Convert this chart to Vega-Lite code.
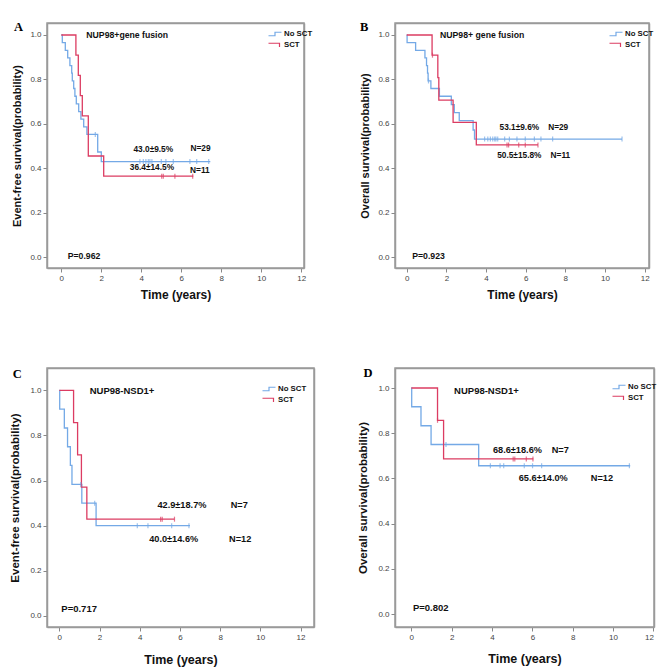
{
  "$schema": "https://vega.github.io/schema/vega-lite/v6.json",
  "background": "white",
  "padding": {"left": 9, "top": 20, "right": 5, "bottom": 5},
  "config": {
    "view": {"stroke": "#9a9a9a", "strokeWidth": 1.5},
    "axis": {"grid": false, "domain": true, "domainColor": "#9a9a9a", "domainWidth": 1.5, "tickColor": "#888", "tickSize": 4, "labelFont": "Liberation Sans", "labelFontSize": 8, "labelColor": "#444", "labelPadding": 2, "titleFont": "Liberation Sans", "titleFontWeight": "bold", "titleColor": "#111"},
    "legend": {"title": null, "labelFont": "Liberation Sans", "labelFontSize": 7.8, "labelFontWeight": "bold", "labelColor": "#111", "symbolSize": 100, "symbolStrokeWidth": 1.2, "rowPadding": 0, "labelOffset": 3, "padding": 0}
  },
  "datasets": {
    "steps": [
      {"p": "A", "g": "No SCT", "t": 0, "s": 1},
      {"p": "A", "g": "No SCT", "t": 0.05, "s": 0.966},
      {"p": "A", "g": "No SCT", "t": 0.2, "s": 0.931},
      {"p": "A", "g": "No SCT", "t": 0.32, "s": 0.897},
      {"p": "A", "g": "No SCT", "t": 0.43, "s": 0.862},
      {"p": "A", "g": "No SCT", "t": 0.52, "s": 0.828},
      {"p": "A", "g": "No SCT", "t": 0.55, "s": 0.793},
      {"p": "A", "g": "No SCT", "t": 0.62, "s": 0.759},
      {"p": "A", "g": "No SCT", "t": 0.68, "s": 0.724},
      {"p": "A", "g": "No SCT", "t": 0.75, "s": 0.69},
      {"p": "A", "g": "No SCT", "t": 0.87, "s": 0.655},
      {"p": "A", "g": "No SCT", "t": 0.98, "s": 0.621},
      {"p": "A", "g": "No SCT", "t": 1.12, "s": 0.586},
      {"p": "A", "g": "No SCT", "t": 1.28, "s": 0.552},
      {"p": "A", "g": "No SCT", "t": 1.82, "s": 0.473},
      {"p": "A", "g": "No SCT", "t": 2.0, "s": 0.43},
      {"p": "A", "g": "No SCT", "t": 7.45, "s": 0.43},
      {"p": "A", "g": "SCT", "t": 0, "s": 1},
      {"p": "A", "g": "SCT", "t": 0.73, "s": 0.909},
      {"p": "A", "g": "SCT", "t": 0.85, "s": 0.818},
      {"p": "A", "g": "SCT", "t": 0.95, "s": 0.727},
      {"p": "A", "g": "SCT", "t": 1.05, "s": 0.636},
      {"p": "A", "g": "SCT", "t": 1.35, "s": 0.455},
      {"p": "A", "g": "SCT", "t": 2.12, "s": 0.364},
      {"p": "A", "g": "SCT", "t": 6.6, "s": 0.364},
      {"p": "B", "g": "No SCT", "t": 0, "s": 1},
      {"p": "B", "g": "No SCT", "t": 0.02, "s": 0.966},
      {"p": "B", "g": "No SCT", "t": 0.45, "s": 0.931},
      {"p": "B", "g": "No SCT", "t": 0.92, "s": 0.897},
      {"p": "B", "g": "No SCT", "t": 1.0, "s": 0.862},
      {"p": "B", "g": "No SCT", "t": 1.05, "s": 0.828},
      {"p": "B", "g": "No SCT", "t": 1.08, "s": 0.793},
      {"p": "B", "g": "No SCT", "t": 1.22, "s": 0.759},
      {"p": "B", "g": "No SCT", "t": 1.65, "s": 0.724},
      {"p": "B", "g": "No SCT", "t": 2.25, "s": 0.686},
      {"p": "B", "g": "No SCT", "t": 2.4, "s": 0.65},
      {"p": "B", "g": "No SCT", "t": 2.65, "s": 0.614},
      {"p": "B", "g": "No SCT", "t": 3.35, "s": 0.572},
      {"p": "B", "g": "No SCT", "t": 3.42, "s": 0.531},
      {"p": "B", "g": "No SCT", "t": 10.86, "s": 0.531},
      {"p": "B", "g": "SCT", "t": 0, "s": 1},
      {"p": "B", "g": "SCT", "t": 1.28, "s": 0.909},
      {"p": "B", "g": "SCT", "t": 1.57, "s": 0.808},
      {"p": "B", "g": "SCT", "t": 1.62, "s": 0.707},
      {"p": "B", "g": "SCT", "t": 2.34, "s": 0.606},
      {"p": "B", "g": "SCT", "t": 3.51, "s": 0.505},
      {"p": "B", "g": "SCT", "t": 6.62, "s": 0.505},
      {"p": "C", "g": "No SCT", "t": 0, "s": 1},
      {"p": "C", "g": "No SCT", "t": 0.02, "s": 0.917},
      {"p": "C", "g": "No SCT", "t": 0.25, "s": 0.833},
      {"p": "C", "g": "No SCT", "t": 0.41, "s": 0.75},
      {"p": "C", "g": "No SCT", "t": 0.55, "s": 0.667},
      {"p": "C", "g": "No SCT", "t": 0.63, "s": 0.583},
      {"p": "C", "g": "No SCT", "t": 1.12, "s": 0.5},
      {"p": "C", "g": "No SCT", "t": 1.83, "s": 0.4},
      {"p": "C", "g": "No SCT", "t": 6.5, "s": 0.4},
      {"p": "C", "g": "SCT", "t": 0, "s": 1},
      {"p": "C", "g": "SCT", "t": 0.71, "s": 0.857},
      {"p": "C", "g": "SCT", "t": 0.91, "s": 0.714},
      {"p": "C", "g": "SCT", "t": 1.1, "s": 0.571},
      {"p": "C", "g": "SCT", "t": 1.37, "s": 0.429},
      {"p": "C", "g": "SCT", "t": 5.73, "s": 0.429},
      {"p": "D", "g": "No SCT", "t": 0, "s": 1},
      {"p": "D", "g": "No SCT", "t": 0.02, "s": 0.917},
      {"p": "D", "g": "No SCT", "t": 0.48, "s": 0.833},
      {"p": "D", "g": "No SCT", "t": 0.98, "s": 0.75},
      {"p": "D", "g": "No SCT", "t": 3.34, "s": 0.656},
      {"p": "D", "g": "No SCT", "t": 10.85, "s": 0.656},
      {"p": "D", "g": "SCT", "t": 0, "s": 1},
      {"p": "D", "g": "SCT", "t": 1.3, "s": 0.857},
      {"p": "D", "g": "SCT", "t": 1.6, "s": 0.686},
      {"p": "D", "g": "SCT", "t": 6.05, "s": 0.686}
    ],
    "cens": [
      {"p": "A", "g": "No SCT", "t": 1.7, "s": 0.552},
      {"p": "A", "g": "No SCT", "t": 3.93, "s": 0.43},
      {"p": "A", "g": "No SCT", "t": 4.1, "s": 0.43},
      {"p": "A", "g": "No SCT", "t": 4.23, "s": 0.43},
      {"p": "A", "g": "No SCT", "t": 4.35, "s": 0.43},
      {"p": "A", "g": "No SCT", "t": 4.43, "s": 0.43},
      {"p": "A", "g": "No SCT", "t": 4.53, "s": 0.43},
      {"p": "A", "g": "No SCT", "t": 5.0, "s": 0.43},
      {"p": "A", "g": "No SCT", "t": 5.23, "s": 0.43},
      {"p": "A", "g": "No SCT", "t": 5.6, "s": 0.43},
      {"p": "A", "g": "No SCT", "t": 6.43, "s": 0.43},
      {"p": "A", "g": "No SCT", "t": 6.77, "s": 0.43},
      {"p": "A", "g": "No SCT", "t": 7.37, "s": 0.43},
      {"p": "A", "g": "SCT", "t": 5.02, "s": 0.364},
      {"p": "A", "g": "SCT", "t": 5.1, "s": 0.364},
      {"p": "A", "g": "SCT", "t": 5.68, "s": 0.364},
      {"p": "A", "g": "SCT", "t": 6.57, "s": 0.364},
      {"p": "B", "g": "No SCT", "t": 1.1, "s": 0.793},
      {"p": "B", "g": "No SCT", "t": 3.93, "s": 0.531},
      {"p": "B", "g": "No SCT", "t": 4.09, "s": 0.531},
      {"p": "B", "g": "No SCT", "t": 4.22, "s": 0.531},
      {"p": "B", "g": "No SCT", "t": 4.34, "s": 0.531},
      {"p": "B", "g": "No SCT", "t": 4.44, "s": 0.531},
      {"p": "B", "g": "No SCT", "t": 4.5, "s": 0.531},
      {"p": "B", "g": "No SCT", "t": 4.59, "s": 0.531},
      {"p": "B", "g": "No SCT", "t": 4.94, "s": 0.531},
      {"p": "B", "g": "No SCT", "t": 5.18, "s": 0.531},
      {"p": "B", "g": "No SCT", "t": 5.56, "s": 0.531},
      {"p": "B", "g": "No SCT", "t": 5.98, "s": 0.531},
      {"p": "B", "g": "No SCT", "t": 6.44, "s": 0.531},
      {"p": "B", "g": "No SCT", "t": 6.77, "s": 0.531},
      {"p": "B", "g": "No SCT", "t": 7.36, "s": 0.531},
      {"p": "B", "g": "No SCT", "t": 10.86, "s": 0.531},
      {"p": "B", "g": "SCT", "t": 1.3, "s": 0.909},
      {"p": "B", "g": "SCT", "t": 5.06, "s": 0.505},
      {"p": "B", "g": "SCT", "t": 5.14, "s": 0.505},
      {"p": "B", "g": "SCT", "t": 5.65, "s": 0.505},
      {"p": "B", "g": "SCT", "t": 5.98, "s": 0.505},
      {"p": "B", "g": "SCT", "t": 6.62, "s": 0.505},
      {"p": "C", "g": "No SCT", "t": 1.07, "s": 0.583},
      {"p": "C", "g": "No SCT", "t": 1.76, "s": 0.5},
      {"p": "C", "g": "No SCT", "t": 3.88, "s": 0.4},
      {"p": "C", "g": "No SCT", "t": 4.41, "s": 0.4},
      {"p": "C", "g": "No SCT", "t": 5.59, "s": 0.4},
      {"p": "C", "g": "No SCT", "t": 6.45, "s": 0.4},
      {"p": "C", "g": "SCT", "t": 5.04, "s": 0.429},
      {"p": "C", "g": "SCT", "t": 5.12, "s": 0.429},
      {"p": "C", "g": "SCT", "t": 5.73, "s": 0.429},
      {"p": "D", "g": "No SCT", "t": 1.72, "s": 0.75},
      {"p": "D", "g": "No SCT", "t": 3.92, "s": 0.656},
      {"p": "D", "g": "No SCT", "t": 4.4, "s": 0.656},
      {"p": "D", "g": "No SCT", "t": 4.58, "s": 0.656},
      {"p": "D", "g": "No SCT", "t": 5.6, "s": 0.656},
      {"p": "D", "g": "No SCT", "t": 6.01, "s": 0.656},
      {"p": "D", "g": "No SCT", "t": 6.46, "s": 0.656},
      {"p": "D", "g": "No SCT", "t": 10.81, "s": 0.656},
      {"p": "D", "g": "SCT", "t": 1.3, "s": 0.857},
      {"p": "D", "g": "SCT", "t": 5.05, "s": 0.686},
      {"p": "D", "g": "SCT", "t": 5.13, "s": 0.686},
      {"p": "D", "g": "SCT", "t": 5.7, "s": 0.686},
      {"p": "D", "g": "SCT", "t": 6.03, "s": 0.686}
    ],
    "labs": [
      {"p": "A", "k": "L", "label": "NUP98+gene fusion", "t": 1.25, "s": 1.0},
      {"p": "A", "k": "C", "label": "43.0±9.5%", "t": 4.6, "s": 0.481},
      {"p": "A", "k": "C", "label": "N=29", "t": 6.96, "s": 0.485},
      {"p": "A", "k": "C", "label": "36.4±14.5%", "t": 4.53, "s": 0.4},
      {"p": "A", "k": "C", "label": "N=11", "t": 6.93, "s": 0.389},
      {"p": "A", "k": "L", "label": "P=0.962", "t": 0.32, "s": 0.005},
      {"p": "A", "k": "K", "label": "A", "t": -2.14, "s": 1.037},
      {"p": "B", "k": "L", "label": "NUP98+ gene fusion", "t": 1.68, "s": 1.0},
      {"p": "B", "k": "C", "label": "53.1±9.6%", "t": 5.68, "s": 0.582},
      {"p": "B", "k": "C", "label": "N=29", "t": 7.64, "s": 0.582},
      {"p": "B", "k": "C", "label": "50.5±15.8%", "t": 5.68, "s": 0.456},
      {"p": "B", "k": "C", "label": "N=11", "t": 7.75, "s": 0.456},
      {"p": "B", "k": "L", "label": "P=0.923", "t": 0.28, "s": 0.005},
      {"p": "B", "k": "K", "label": "B", "t": -2.15, "s": 1.037},
      {"p": "C", "k": "L", "label": "NUP98-NSD1+", "t": 1.51, "s": 0.998},
      {"p": "C", "k": "C", "label": "42.9±18.7%", "t": 6.1, "s": 0.492},
      {"p": "C", "k": "C", "label": "N=7", "t": 8.95, "s": 0.492},
      {"p": "C", "k": "C", "label": "40.0±14.6%", "t": 5.69, "s": 0.34},
      {"p": "C", "k": "C", "label": "N=12", "t": 9.0, "s": 0.34},
      {"p": "C", "k": "L", "label": "P=0.717", "t": 0.1, "s": 0.03},
      {"p": "C", "k": "K", "label": "C", "t": -2.09, "s": 1.071},
      {"p": "D", "k": "L", "label": "NUP98-NSD1+", "t": 2.12, "s": 0.988},
      {"p": "D", "k": "C", "label": "68.6±18.6%", "t": 5.26, "s": 0.726},
      {"p": "D", "k": "C", "label": "N=7", "t": 7.38, "s": 0.726},
      {"p": "D", "k": "C", "label": "65.6±14.0%", "t": 6.54, "s": 0.6},
      {"p": "D", "k": "C", "label": "N=12", "t": 9.45, "s": 0.6},
      {"p": "D", "k": "L", "label": "P=0.802", "t": 0.08, "s": 0.025},
      {"p": "D", "k": "K", "label": "D", "t": -2.14, "s": 1.065}
    ]
  },
  "columns": 2,
  "bounds": "flush",
  "align": "each",
  "spacing": {"row": 100, "column": 81},
  "resolve": {"scale": {"color": "independent"}, "legend": {"color": "independent"}},
  "concat": [
    {
      "width": 257, "height": 245,
      "resolve": {"axis": {"x": "independent", "y": "independent"}},
      "layer": [
        {
          "data": {"name": "steps"}, "transform": [{"filter": "datum.p === 'A'"}],
          "mark": {"type": "line", "interpolate": "step-after", "strokeWidth": 1.3},
          "encoding": {
            "x": {"field": "t", "type": "quantitative", "scale": {"domain": [-0.715, 12.135], "nice": false, "zero": false}, "axis": {"values": [0, 2, 4, 6, 8, 10, 12], "title": "Time (years)", "titleFontSize": 12, "titlePadding": 7}},
            "y": {"field": "s", "type": "quantitative", "scale": {"domain": [-0.0495, 1.054], "nice": false, "zero": false}, "axis": {"values": [0, 0.2, 0.4, 0.6, 0.8, 1], "format": ".1f", "title": "Event-free survival(probability)", "titleFontSize": 11, "titlePadding": 7}},
            "color": {"field": "g", "type": "nominal", "scale": {"domain": ["No SCT", "SCT"], "range": ["#74a9e6", "#dc3c62"]}, "legend": {"orient": "none", "legendX": 222, "legendY": 5, "symbolType": "M-1.3,0.35H0V-0.35H1.3", "encode": {"symbols": {"update": {"shape": {"signal": "datum.value === 'SCT' ? 'M-1.3,-0.35H0.9V0.4' : 'M-1.3,0.35H0V-0.35H1.3'"}}}}}}
          }
        },
        {
          "data": {"name": "cens"}, "transform": [{"filter": "datum.p === 'A'"}],
          "mark": {"type": "point", "shape": "M0,-1L0,1", "filled": false, "size": 25, "strokeWidth": 1.2},
          "encoding": {
            "x": {"field": "t", "type": "quantitative", "axis": {"orient": "top", "labels": false, "ticks": false, "title": null}},
            "y": {"field": "s", "type": "quantitative", "axis": {"orient": "right", "labels": false, "ticks": false, "title": null}},
            "color": {"field": "g", "type": "nominal"}}
        },
        {
          "data": {"name": "labs"}, "transform": [{"filter": "datum.p === 'A' && datum.k === 'L'"}],
          "mark": {"type": "text", "align": "left", "baseline": "middle", "font": "Liberation Sans", "fontWeight": "bold", "fontSize": 8.7, "color": "#111"},
          "encoding": {"x": {"field": "t", "type": "quantitative", "axis": null}, "y": {"field": "s", "type": "quantitative", "axis": null}, "text": {"field": "label"}}
        },
        {
          "data": {"name": "labs"}, "transform": [{"filter": "datum.p === 'A' && datum.k === 'C'"}],
          "mark": {"type": "text", "align": "center", "baseline": "middle", "font": "Liberation Sans", "fontWeight": "bold", "fontSize": 8.3, "color": "#111"},
          "encoding": {"x": {"field": "t", "type": "quantitative", "axis": null}, "y": {"field": "s", "type": "quantitative", "axis": null}, "text": {"field": "label"}}
        },
        {
          "data": {"name": "labs"}, "transform": [{"filter": "datum.p === 'A' && datum.k === 'K'"}],
          "mark": {"type": "text", "align": "center", "baseline": "middle", "fontWeight": "bold", "fontSize": 12.5, "font": "Liberation Serif", "color": "#000"},
          "encoding": {"x": {"field": "t", "type": "quantitative", "axis": null}, "y": {"field": "s", "type": "quantitative", "axis": null}, "text": {"field": "label"}}
        }
      ]
    },
    {
      "width": 254, "height": 245,
      "resolve": {"axis": {"x": "independent", "y": "independent"}},
      "layer": [
        {
          "data": {"name": "steps"}, "transform": [{"filter": "datum.p === 'B'"}],
          "mark": {"type": "line", "interpolate": "step-after", "strokeWidth": 1.3},
          "encoding": {
            "x": {"field": "t", "type": "quantitative", "scale": {"domain": [-0.59, 12.22], "nice": false, "zero": false}, "axis": {"values": [0, 2, 4, 6, 8, 10, 12], "title": "Time (years)", "titleFontSize": 12, "titlePadding": 7}},
            "y": {"field": "s", "type": "quantitative", "scale": {"domain": [-0.0495, 1.054], "nice": false, "zero": false}, "axis": {"values": [0, 0.2, 0.4, 0.6, 0.8, 1], "format": ".1f", "title": "Overall survival(probability)", "titleFontSize": 11, "titlePadding": 7}},
            "color": {"field": "g", "type": "nominal", "scale": {"domain": ["No SCT", "SCT"], "range": ["#74a9e6", "#dc3c62"]}, "legend": {"orient": "none", "legendX": 215, "legendY": 5, "symbolType": "M-1.3,0.35H0V-0.35H1.3", "encode": {"symbols": {"update": {"shape": {"signal": "datum.value === 'SCT' ? 'M-1.3,-0.35H0.9V0.4' : 'M-1.3,0.35H0V-0.35H1.3'"}}}}}}
          }
        },
        {
          "data": {"name": "cens"}, "transform": [{"filter": "datum.p === 'B'"}],
          "mark": {"type": "point", "shape": "M0,-1L0,1", "filled": false, "size": 25, "strokeWidth": 1.2},
          "encoding": {
            "x": {"field": "t", "type": "quantitative", "axis": {"orient": "top", "labels": false, "ticks": false, "title": null}},
            "y": {"field": "s", "type": "quantitative", "axis": {"orient": "right", "labels": false, "ticks": false, "title": null}},
            "color": {"field": "g", "type": "nominal"}}
        },
        {
          "data": {"name": "labs"}, "transform": [{"filter": "datum.p === 'B' && datum.k === 'L'"}],
          "mark": {"type": "text", "align": "left", "baseline": "middle", "font": "Liberation Sans", "fontWeight": "bold", "fontSize": 8.7, "color": "#111"},
          "encoding": {"x": {"field": "t", "type": "quantitative", "axis": null}, "y": {"field": "s", "type": "quantitative", "axis": null}, "text": {"field": "label"}}
        },
        {
          "data": {"name": "labs"}, "transform": [{"filter": "datum.p === 'B' && datum.k === 'C'"}],
          "mark": {"type": "text", "align": "center", "baseline": "middle", "font": "Liberation Sans", "fontWeight": "bold", "fontSize": 8.3, "color": "#111"},
          "encoding": {"x": {"field": "t", "type": "quantitative", "axis": null}, "y": {"field": "s", "type": "quantitative", "axis": null}, "text": {"field": "label"}}
        },
        {
          "data": {"name": "labs"}, "transform": [{"filter": "datum.p === 'B' && datum.k === 'K'"}],
          "mark": {"type": "text", "align": "center", "baseline": "middle", "fontWeight": "bold", "fontSize": 12.5, "font": "Liberation Serif", "color": "#000"},
          "encoding": {"x": {"field": "t", "type": "quantitative", "axis": null}, "y": {"field": "s", "type": "quantitative", "axis": null}, "text": {"field": "label"}}
        }
      ]
    },
    {
      "width": 267, "height": 259,
      "resolve": {"axis": {"x": "independent", "y": "independent"}},
      "layer": [
        {
          "data": {"name": "steps"}, "transform": [{"filter": "datum.p === 'C'"}],
          "mark": {"type": "line", "interpolate": "step-after", "strokeWidth": 1.3},
          "encoding": {
            "x": {"field": "t", "type": "quantitative", "scale": {"domain": [-0.612, 12.67], "nice": false, "zero": false}, "axis": {"values": [0, 2, 4, 6, 8, 10, 12], "title": "Time (years)", "titleFontSize": 12.5, "titlePadding": 12}},
            "y": {"field": "s", "type": "quantitative", "scale": {"domain": [-0.049, 1.099], "nice": false, "zero": false}, "axis": {"values": [0, 0.2, 0.4, 0.6, 0.8, 1], "format": ".1f", "title": "Event-free survival(probability)", "titleFontSize": 11.5, "titlePadding": 9}},
            "color": {"field": "g", "type": "nominal", "scale": {"domain": ["No SCT", "SCT"], "range": ["#74a9e6", "#dc3c62"]}, "legend": {"orient": "none", "legendX": 216, "legendY": 15, "symbolType": "M-1.3,0.35H0V-0.35H1.3", "encode": {"symbols": {"update": {"shape": {"signal": "datum.value === 'SCT' ? 'M-1.3,-0.35H0.9V0.4' : 'M-1.3,0.35H0V-0.35H1.3'"}}}}}}
          }
        },
        {
          "data": {"name": "cens"}, "transform": [{"filter": "datum.p === 'C'"}],
          "mark": {"type": "point", "shape": "M0,-1L0,1", "filled": false, "size": 25, "strokeWidth": 1.2},
          "encoding": {
            "x": {"field": "t", "type": "quantitative", "axis": {"orient": "top", "labels": false, "ticks": false, "title": null}},
            "y": {"field": "s", "type": "quantitative", "axis": {"orient": "right", "labels": false, "ticks": false, "title": null}},
            "color": {"field": "g", "type": "nominal"}}
        },
        {
          "data": {"name": "labs"}, "transform": [{"filter": "datum.p === 'C' && datum.k === 'L'"}],
          "mark": {"type": "text", "align": "left", "baseline": "middle", "font": "Liberation Sans", "fontWeight": "bold", "fontSize": 9.5, "color": "#111"},
          "encoding": {"x": {"field": "t", "type": "quantitative", "axis": null}, "y": {"field": "s", "type": "quantitative", "axis": null}, "text": {"field": "label"}}
        },
        {
          "data": {"name": "labs"}, "transform": [{"filter": "datum.p === 'C' && datum.k === 'C'"}],
          "mark": {"type": "text", "align": "center", "baseline": "middle", "font": "Liberation Sans", "fontWeight": "bold", "fontSize": 9.2, "color": "#111"},
          "encoding": {"x": {"field": "t", "type": "quantitative", "axis": null}, "y": {"field": "s", "type": "quantitative", "axis": null}, "text": {"field": "label"}}
        },
        {
          "data": {"name": "labs"}, "transform": [{"filter": "datum.p === 'C' && datum.k === 'K'"}],
          "mark": {"type": "text", "align": "center", "baseline": "middle", "fontWeight": "bold", "fontSize": 12.5, "font": "Liberation Serif", "color": "#000"},
          "encoding": {"x": {"field": "t", "type": "quantitative", "axis": null}, "y": {"field": "s", "type": "quantitative", "axis": null}, "text": {"field": "label"}}
        }
      ]
    },
    {
      "width": 259, "height": 259,
      "resolve": {"axis": {"x": "independent", "y": "independent"}},
      "layer": [
        {
          "data": {"name": "steps"}, "transform": [{"filter": "datum.p === 'D'"}],
          "mark": {"type": "line", "interpolate": "step-after", "strokeWidth": 1.3},
          "encoding": {
            "x": {"field": "t", "type": "quantitative", "scale": {"domain": [-0.808, 12.03], "nice": false, "zero": false}, "axis": {"values": [0, 2, 4, 6, 8, 10, 12], "title": "Time (years)", "titleFontSize": 12.5, "titlePadding": 11}},
            "y": {"field": "s", "type": "quantitative", "scale": {"domain": [-0.0575, 1.0885], "nice": false, "zero": false}, "axis": {"values": [0, 0.2, 0.4, 0.6, 0.8, 1], "format": ".1f", "title": "Overall survival(probability)", "titleFontSize": 11.5, "titlePadding": 9}},
            "color": {"field": "g", "type": "nominal", "scale": {"domain": ["No SCT", "SCT"], "range": ["#74a9e6", "#dc3c62"]}, "legend": {"orient": "none", "legendX": 218, "legendY": 13, "symbolType": "M-1.3,0.35H0V-0.35H1.3", "encode": {"symbols": {"update": {"shape": {"signal": "datum.value === 'SCT' ? 'M-1.3,-0.35H0.9V0.4' : 'M-1.3,0.35H0V-0.35H1.3'"}}}}}}
          }
        },
        {
          "data": {"name": "cens"}, "transform": [{"filter": "datum.p === 'D'"}],
          "mark": {"type": "point", "shape": "M0,-1L0,1", "filled": false, "size": 25, "strokeWidth": 1.2},
          "encoding": {
            "x": {"field": "t", "type": "quantitative", "axis": {"orient": "top", "labels": false, "ticks": false, "title": null}},
            "y": {"field": "s", "type": "quantitative", "axis": {"orient": "right", "labels": false, "ticks": false, "title": null}},
            "color": {"field": "g", "type": "nominal"}}
        },
        {
          "data": {"name": "labs"}, "transform": [{"filter": "datum.p === 'D' && datum.k === 'L'"}],
          "mark": {"type": "text", "align": "left", "baseline": "middle", "font": "Liberation Sans", "fontWeight": "bold", "fontSize": 9.5, "color": "#111"},
          "encoding": {"x": {"field": "t", "type": "quantitative", "axis": null}, "y": {"field": "s", "type": "quantitative", "axis": null}, "text": {"field": "label"}}
        },
        {
          "data": {"name": "labs"}, "transform": [{"filter": "datum.p === 'D' && datum.k === 'C'"}],
          "mark": {"type": "text", "align": "center", "baseline": "middle", "font": "Liberation Sans", "fontWeight": "bold", "fontSize": 9.2, "color": "#111"},
          "encoding": {"x": {"field": "t", "type": "quantitative", "axis": null}, "y": {"field": "s", "type": "quantitative", "axis": null}, "text": {"field": "label"}}
        },
        {
          "data": {"name": "labs"}, "transform": [{"filter": "datum.p === 'D' && datum.k === 'K'"}],
          "mark": {"type": "text", "align": "center", "baseline": "middle", "fontWeight": "bold", "fontSize": 12.5, "font": "Liberation Serif", "color": "#000"},
          "encoding": {"x": {"field": "t", "type": "quantitative", "axis": null}, "y": {"field": "s", "type": "quantitative", "axis": null}, "text": {"field": "label"}}
        }
      ]
    }
  ]
}
